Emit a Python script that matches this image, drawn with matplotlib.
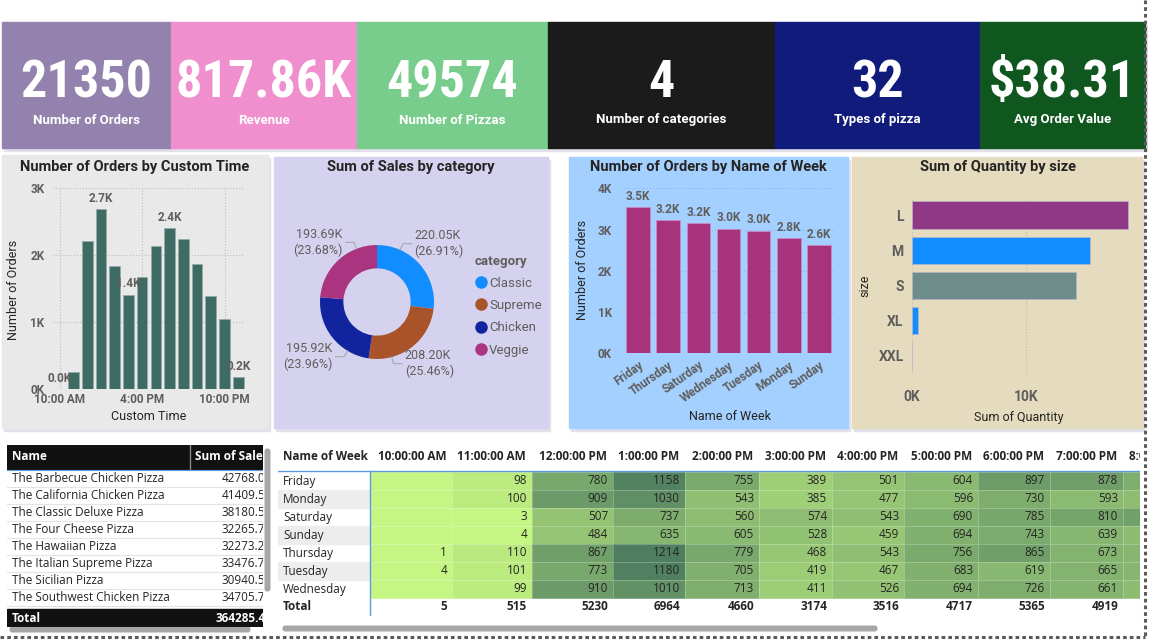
import matplotlib as mpl
mpl.use('Agg')

import os
import matplotlib.pyplot as plt
import numpy as np
from matplotlib import font_manager
from matplotlib.font_manager import FontProperties
from matplotlib.patches import Rectangle, FancyBboxPatch
from matplotlib.colors import LinearSegmentedColormap, Normalize
from matplotlib.lines import Line2D

# ---- data ----
kpi_values = ['21350', '817.86K', '49574', '4', '32', '$38.31']
kpi_labels = ['Number of Orders', 'Revenue', 'Number of Pizzas',
              'Number of categories', 'Types of pizza', 'Avg Order Value']
kpi_colors = ['#9382AD', '#EF8FCD', '#78CD8C', '#1B1B1B', '#101B7B', '#10561F']

hours = ['10:00 AM', '11:00 AM', '12:00 PM', '1:00 PM', '2:00 PM', '3:00 PM', '4:00 PM',
         '5:00 PM', '6:00 PM', '7:00 PM', '8:00 PM', '9:00 PM', '10:00 PM', '11:00 PM']
hour_orders = [8, 260, 2200, 2680, 1830, 1410, 1670, 2130, 2400, 2230, 1870, 1390, 1040, 180]
hour_labelled = ['10:00 AM', '1:00 PM', '3:00 PM', '6:00 PM', '11:00 PM']
hour_ticks = ['10:00 AM', '4:00 PM', '10:00 PM']

categories = ['Classic', 'Supreme', 'Chicken', 'Veggie']
cat_sales = [220050, 208200, 195920, 193690]
cat_colors = ['#118DFF', '#A9532A', '#12239E', '#AA3480']

days = ['Friday', 'Thursday', 'Saturday', 'Wednesday', 'Tuesday', 'Monday', 'Sunday']
day_orders = [3538, 3239, 3158, 3024, 2973, 2794, 2624]

sizes = ['L', 'M', 'S', 'XL', 'XXL']
size_qty = [18956, 15635, 14403, 552, 28]
size_colors = ['#8E3886', '#118DFF', '#6E8D8A', '#118DFF', '#118DFF']

pizza_names = ['The Barbecue Chicken Pizza', 'The California Chicken Pizza',
               'The Classic Deluxe Pizza', 'The Four Cheese Pizza', 'The Hawaiian Pizza',
               'The Italian Supreme Pizza', 'The Sicilian Pizza', 'The Southwest Chicken Pizza']
pizza_sales = [42768.00, 41409.50, 38180.50, 32265.70, 32273.25, 33476.75, 30940.50, 34705.75]
pizza_total = 364285.45

week_rows = ['Friday', 'Monday', 'Saturday', 'Sunday', 'Thursday', 'Tuesday', 'Wednesday']
hour_cols = ['10:00:00 AM', '11:00:00 AM', '12:00:00 PM', '1:00:00 PM', '2:00:00 PM',
             '3:00:00 PM', '4:00:00 PM', '5:00:00 PM', '6:00:00 PM', '7:00:00 PM', '8:00:00 PM']
nan = np.nan
heat = [
    [nan, 98, 780, 1158, 755, 389, 501, 604, 897, 878, 720],
    [nan, 100, 909, 1030, 543, 385, 477, 596, 730, 593, 560],
    [nan, 3, 507, 737, 560, 574, 543, 690, 785, 810, 850],
    [nan, 4, 484, 635, 605, 528, 459, 694, 743, 639, 580],
    [1, 110, 867, 1214, 779, 468, 543, 756, 865, 673, 640],
    [4, 101, 773, 1180, 705, 419, 467, 683, 619, 665, 640],
    [nan, 99, 910, 1010, 713, 411, 526, 694, 726, 661, 580],
]
heat_totals = [5, 515, 5230, 6964, 4660, 3174, 3516, 4717, 5365, 4919]

# ---- fonts ----
plt.rcParams['font.family'] = ['Roboto', 'DejaVu Sans']


def _wnum(w):
    if isinstance(w, str):
        return font_manager.weight_dict.get(w, 400)
    return w


def bold_family(cands):
    for c in cands:
        if any(f.name == c and _wnum(f.weight) >= 600 for f in font_manager.fontManager.ttflist):
            return c
    return 'DejaVu Sans'


table_family = bold_family(['Noto Sans', 'Open Sans', 'Lato', 'Liberation Sans'])
table_font = [table_family, 'DejaVu Sans']

big_prop = None
for fname in ['LiberationSansNarrow-Bold.ttf', 'RobotoCondensed-Bold.ttf',
              'DejaVuSansCondensed-Bold.ttf', 'OpenSans_Condensed-Bold.ttf']:
    for f in font_manager.fontManager.ttflist:
        if os.path.basename(f.fname) == fname:
            big_prop = FontProperties(fname=f.fname, size=37.5)
            break
    if big_prop is not None:
        break
if big_prop is None:
    big_prop = FontProperties(family=['Roboto'], weight='bold', size=33)

DARK = '#252423'
GREY = '#605E5C'

# ---- figure / layout (pixel based) ----
W, H = 1149, 641
fig = plt.figure(figsize=(W / 100, H / 100), dpi=100)
fig.patch.set_facecolor('white')


def frac(x0, y0, x1, y1):
    return [x0 / W, 1 - y1 / H, (x1 - x0) / W, (y1 - y0) / H]


bg = fig.add_axes([0, 0, 1, 1], zorder=0)
bg.set_xlim(0, W)
bg.set_ylim(H, 0)
bg.axis('off')


def panel(x0, y0, x1, y1, color, shadow=True):
    if shadow:
        bg.add_patch(Rectangle((x0 + 2, y0 + 3), x1 - x0, y1 - y0, color='#E2E0EA', zorder=0))
    bg.add_patch(Rectangle((x0, y0), x1 - x0, y1 - y0, color=color, zorder=1))


# KPI cards
card_edges = [2, 171, 357, 548, 775, 980, 1145]
for i, (val, lab, col) in enumerate(zip(kpi_values, kpi_labels, kpi_colors)):
    x0, x1 = card_edges[i], card_edges[i + 1]
    panel(x0, 22, x1, 148, col)
    cx = (x0 + x1) / 2
    bg.text(cx, 83, val, color='white', ha='center', va='center', zorder=3,
            fontproperties=big_prop)
    bg.text(cx, 120, lab, color='white', fontweight='bold', fontsize=9.5,
            ha='center', va='center', zorder=3)

# panels
panel(2, 155, 268, 428, '#E9E9E9')
panel(274, 157, 548, 428, '#D4D2EE')
panel(569, 157, 848, 428, '#A3D0FF')
panel(852, 157, 1142, 428, '#E5DCBF')

title_kw = dict(fontsize=10.5, fontweight='bold', color=DARK, ha='center', va='center', zorder=3)
bg.text(135, 167, 'Number of Orders by Custom Time', **title_kw)
bg.text(411, 167, 'Sum of Sales by category', **title_kw)
bg.text(708, 167, 'Number of Orders by Name of Week', **title_kw)
bg.text(998, 167, 'Sum of Quantity by size', **title_kw)

lab_kw = dict(fontsize=9, color=DARK, ha='center', va='center', zorder=3)


def kfmt(v, d=0):
    return f'{v / 1000:.{d}f}K'


# ---- chart 1: orders by custom time ----
ax1 = fig.add_axes(frac(52.8, 187.7, 245.2, 389.3), zorder=2)
ax1.set_facecolor('none')
x = np.arange(len(hours))
ax1.bar(x, hour_orders, width=0.78, color='#3E6B63', edgecolor='#93ACA7', linewidth=0.6)
ax1.set_xlim(-0.5, len(hours) - 0.5)
ax1.set_ylim(0, 3000)
ax1.set_yticks([0, 1000, 2000, 3000], [kfmt(v) for v in [0, 1000, 2000, 3000]])
ax1.set_xticks([hours.index(h) for h in hour_ticks], hour_ticks)
ax1.grid(True, linestyle=':', color='#BDBDBD', linewidth=0.8)
ax1.set_axisbelow(True)
for s in ax1.spines.values():
    s.set_visible(False)
ax1.tick_params(length=0, colors=GREY, labelsize=8.5)
ax1.tick_params(axis='y', pad=6)
ax1.tick_params(axis='x', pad=3)
for t in ax1.get_xticklabels() + ax1.get_yticklabels():
    t.set_fontweight('bold')
for h in hour_labelled:
    i = hours.index(h)
    ax1.annotate(kfmt(hour_orders[i], 1), (i, hour_orders[i]), xytext=(0, 3),
                 textcoords='offset points', ha='center', va='bottom',
                 fontsize=8.5, fontweight='bold', color=GREY, annotation_clip=False)
bg.text(14, 290, 'Number of Orders', rotation=90, **lab_kw)
bg.text(149, 417, 'Custom Time', **lab_kw)

# ---- chart 2: donut ----
ax2 = fig.add_axes(frac(277, 202, 477, 402), zorder=2)
ax2.pie(cat_sales, colors=cat_colors, startangle=90, counterclock=False, radius=1,
        wedgeprops=dict(width=0.41, edgecolor='none'))
lim = 100 / 57
ax2.set_xlim(-lim, lim)
ax2.set_ylim(-lim, lim)
ax2.axis('off')
total_sales = sum(cat_sales)
label_angles = [66, -75, -121, 111]
for v, ang in zip(cat_sales, label_angles):
    a = np.deg2rad(ang)
    p0 = np.array([np.cos(a), np.sin(a)])
    p1 = p0 * 1.12
    side = 1 if p0[0] > 0 else -1
    p2 = p1 + np.array([0.15 * side, 0])
    ax2.plot([p0[0], p1[0], p2[0]], [p0[1], p1[1], p2[1]], color='#A8A8B0', lw=0.8,
             clip_on=False)
    ax2.text(p2[0] + 0.05 * side, p2[1], f'{v / 1000:.2f}K\n({v / total_sales * 100:.2f}%)',
             ha='left' if side > 0 else 'right', va='center', fontsize=9, color=GREY,
             linespacing=1.2, clip_on=False)
handles = [Line2D([], [], marker='o', linestyle='none', markersize=8, color=c) for c in cat_colors]
leg = ax2.legend(handles, categories, title='category', loc='upper left',
                 bbox_to_anchor=(468 / W, 1 - 248 / H), bbox_transform=fig.transFigure,
                 frameon=False, fontsize=9.5, labelspacing=0.7, handletextpad=0.1,
                 handlelength=1.0, borderpad=0, alignment='left', title_fontsize=9.5)
leg.get_title().set_fontweight('bold')
leg.get_title().set_color(GREY)
for t in leg.get_texts():
    t.set_color(GREY)

# ---- chart 3: orders by weekday ----
ax3 = fig.add_axes(frac(623, 188.3, 834, 353.3), zorder=2)
ax3.set_facecolor('none')
xd = np.arange(len(days))
ax3.bar(xd, day_orders, width=0.78, color='#A8337D', edgecolor='#C98AC0', linewidth=0.6)
ax3.set_xlim(-0.5, len(days) - 0.5)
ax3.set_ylim(0, 4000)
ax3.set_yticks([0, 1000, 2000, 3000, 4000], [kfmt(v) for v in [0, 1000, 2000, 3000, 4000]])
ax3.set_xticks(xd, days, rotation=35, ha='right', rotation_mode='anchor')
ax3.grid(True, axis='y', linestyle=':', color='#8DB8E6', linewidth=0.8)
ax3.set_axisbelow(True)
for s in ax3.spines.values():
    s.set_visible(False)
ax3.tick_params(length=0, colors=GREY, labelsize=8.5)
ax3.tick_params(axis='y', pad=8)
ax3.tick_params(axis='x', pad=4)
for t in ax3.get_xticklabels() + ax3.get_yticklabels():
    t.set_fontweight('bold')
for i, v in enumerate(day_orders):
    ax3.annotate(kfmt(v, 1), (i, v), xytext=(0, 3), textcoords='offset points',
                 ha='center', va='bottom', fontsize=8.5, fontweight='bold', color=GREY,
                 annotation_clip=False)
bg.text(582, 270, 'Number of Orders', rotation=90, **lab_kw)
bg.text(730, 417, 'Name of Week', **lab_kw)

# ---- chart 4: quantity by size ----
ax4 = fig.add_axes(frac(912, 197.4, 1140, 373.6), zorder=2)
ax4.set_facecolor('none')
ax4.barh(np.arange(len(sizes)), size_qty, height=0.77, color=size_colors,
         edgecolor='#B4B4C8', linewidth=0.5)
ax4.set_ylim(len(sizes) - 0.5, -0.5)
ax4.set_xlim(0, 20000)
ax4.set_yticks(np.arange(len(sizes)), sizes)
ax4.set_xticks([0, 10000], [kfmt(0), kfmt(10000)])
ax4.grid(True, axis='x', linestyle=':', color='#C9C0A4', linewidth=0.8)
ax4.set_axisbelow(True)
for s in ax4.spines.values():
    s.set_visible(False)
ax4.tick_params(length=0, colors=GREY, labelsize=10)
ax4.tick_params(axis='y', pad=6)
ax4.tick_params(axis='x', pad=12)
for t in ax4.get_xticklabels() + ax4.get_yticklabels():
    t.set_fontweight('bold')
bg.text(865, 286, 'size', rotation=90, **lab_kw)
bg.text(1019, 417, 'Sum of Quantity', **lab_kw)

# ---- table: sales by pizza ----
tab = fig.add_axes(frac(7, 445, 263, 627), zorder=2)
tab.set_xlim(7, 263)
tab.set_ylim(627, 445)
tab.axis('off')
tab.add_patch(Rectangle((7, 445), 256, 24, color='#111111'))
tab.plot([190, 190], [445, 469], color='#8A8A8A', lw=1)
tab.text(12, 457, 'Name', color='white', fontweight='bold', fontsize=8.5, va='center',
         family=table_font)
tab.text(195, 457, 'Sum of Sales', color='white', fontweight='bold', fontsize=8.5,
         va='center', family=table_font, clip_on=True)
row_top = 470
row_h = 17
for i, (nm, v) in enumerate(zip(pizza_names, pizza_sales)):
    yc = row_top + row_h * i + row_h / 2
    tab.text(12, yc, nm, color=DARK, fontsize=8.5, va='center', family=table_font)
    tab.text(272, yc, f'{v:.2f}', color=DARK, fontsize=8.5, va='center', ha='right',
             family=table_font, clip_on=True)
    tab.plot([7, 263], [row_top + row_h * (i + 1), row_top + row_h * (i + 1)],
             color='#E4E4E4', lw=0.8)
tab.plot([7, 263], [470, 470], color='#5B9BE0', lw=0.8)
tab.add_patch(Rectangle((7, 609), 256, 17, color='#111111'))
tab.text(12, 618, 'Total', color='white', fontweight='bold', fontsize=8.5, va='center',
         family=table_font)
tab.text(272, 618, f'{pizza_total:.2f}', color='white', fontweight='bold', fontsize=8.5,
         va='center', ha='right', family=table_font, clip_on=True)
bg.add_patch(FancyBboxPatch((266, 450), 3, 140, boxstyle='round,pad=0.8,rounding_size=2',
                            color='#A6A6A6', zorder=3))
bg.add_patch(FancyBboxPatch((11, 628), 238, 3, boxstyle='round,pad=0.8,rounding_size=2',
                            color='#A6A6A6', zorder=3))

# ---- matrix: orders by weekday and hour ----
hm = fig.add_axes(frac(278, 445, 1140, 616), zorder=2)
hm.set_xlim(278, 1140)
hm.set_ylim(616, 445)
hm.axis('off')
col_edges = [370, 452, 532, 613, 685, 759, 832, 904, 978, 1050, 1123, 1196]
hrow_top = 472
hrow_h = 18
row_edges = hrow_top + hrow_h * np.arange(len(week_rows) + 1)
Z = np.ma.masked_invalid(np.array(heat, dtype=float))
cmap = LinearSegmentedColormap.from_list('grn', ['#C5F582', '#4E7D60'])
cmap.set_bad('#C5F582')
hm.pcolormesh(col_edges, row_edges, Z, cmap=cmap, norm=Normalize(0, 1214),
              edgecolors=(1, 1, 1, 0.25), linewidth=0.6)
cell_kw = dict(fontsize=8.5, color=DARK, va='center', family=table_font, clip_on=True)
for i, day in enumerate(week_rows):
    yc = row_edges[i] + hrow_h / 2
    if i % 2 == 1:
        hm.add_patch(Rectangle((278, row_edges[i]), 92, hrow_h, color='#EDEDED'))
    hm.text(283, yc, day, **cell_kw)
    for j in range(len(heat_totals)):
        v = heat[i][j]
        if not np.isnan(v):
            hm.text(col_edges[j + 1] - 5, yc, f'{int(v)}', ha='right', **cell_kw)
hm.text(283, 456, 'Name of Week', fontweight='bold', **cell_kw)
for j, c in enumerate(hour_cols):
    hm.text(col_edges[j + 1] - 6, 456, c, ha='right', fontweight='bold', **cell_kw)
ytot = row_edges[-1] + 9
hm.text(283, ytot, 'Total', fontweight='bold', **cell_kw)
for j, v in enumerate(heat_totals):
    hm.text(col_edges[j + 1] - 5, ytot, f'{v}', ha='right', fontweight='bold', **cell_kw)
hm.plot([278, 1140], [471, 471], color='#5B9BE0', lw=1)
hm.plot([370, 370], [471, 615], color='#5B9BE0', lw=1)
bg.add_patch(FancyBboxPatch((284, 627), 592, 3, boxstyle='round,pad=0.8,rounding_size=2',
                            color='#A6A6A6', zorder=3))

# page border (dotted)
bg.plot([1145, 1145], [0, 637], color='#5A5A5A', lw=2.2, linestyle=(0, (1.2, 1.0)), zorder=4)
bg.plot([0, 1145], [637, 637], color='#5A5A5A', lw=2.2, linestyle=(0, (1.2, 1.0)), zorder=4)

fig.savefig('out.png', dpi=100)
